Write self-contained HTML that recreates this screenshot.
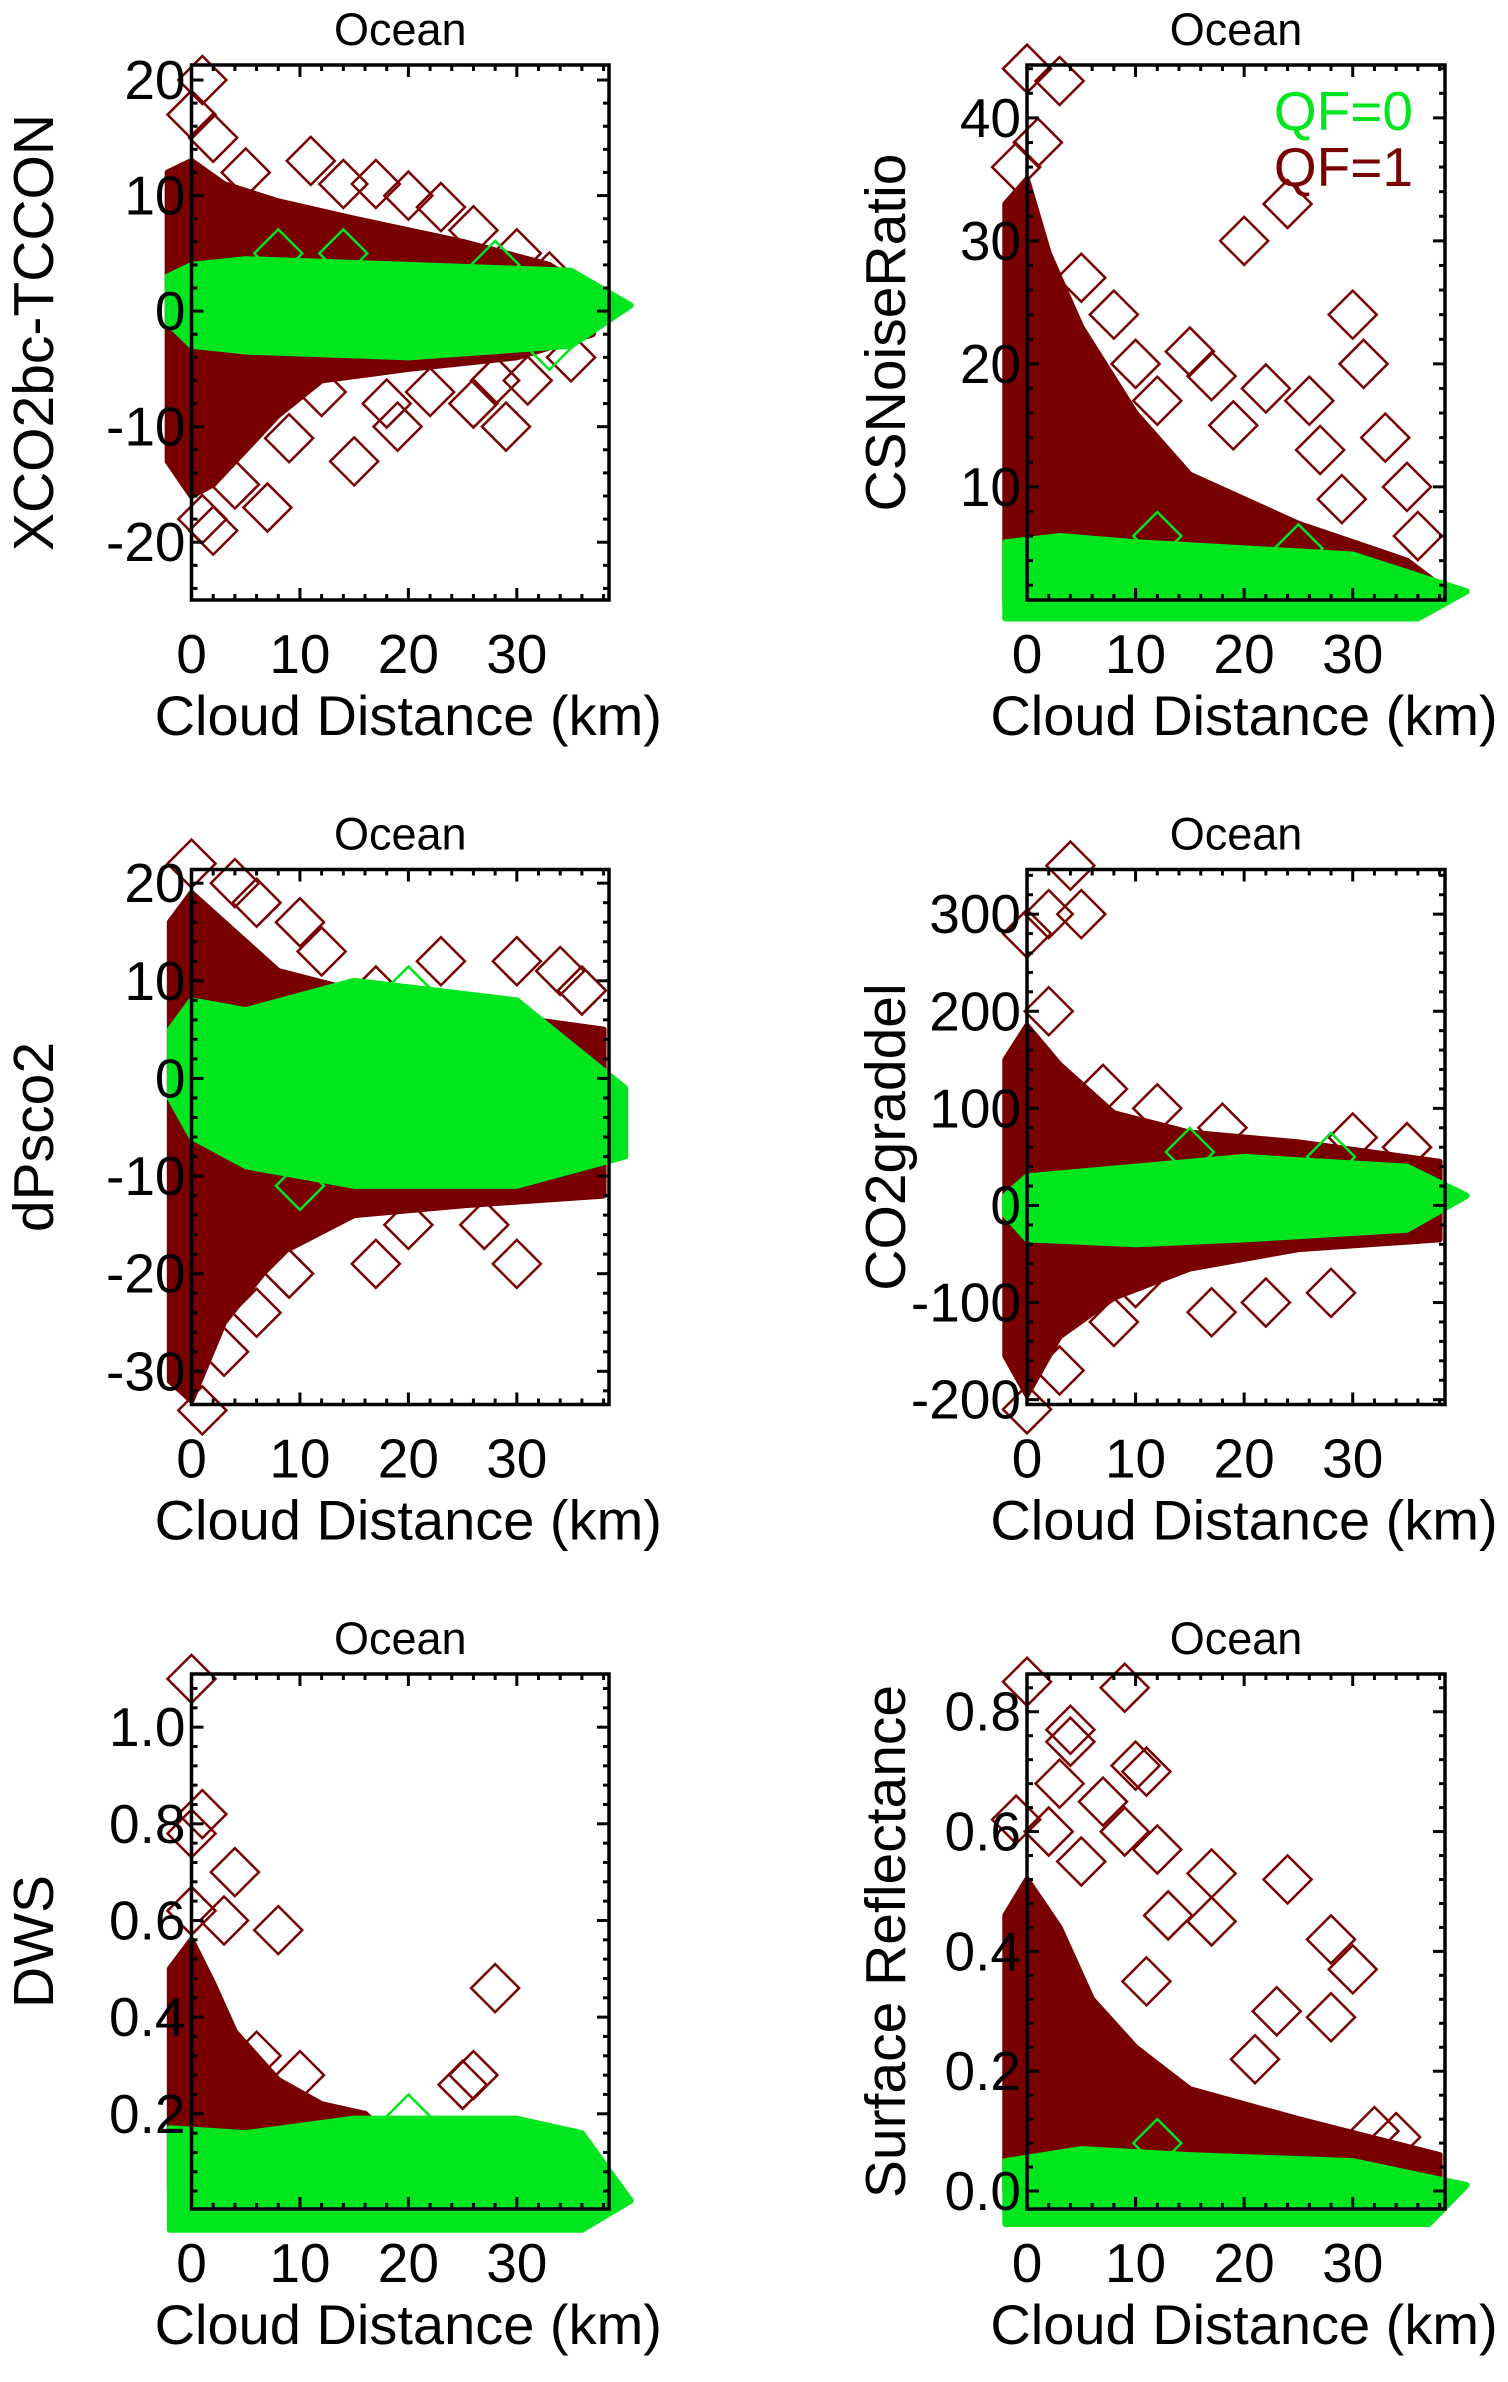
<!DOCTYPE html>
<html><head><meta charset="utf-8"><style>
html,body{margin:0;padding:0;background:#fff}
svg{display:block}
text{font-family:"Liberation Sans",sans-serif;fill:#000}
</style></head><body>
<svg id="fig" width="1508" height="2382" viewBox="0 0 1508 2382" xmlns="http://www.w3.org/2000/svg"></svg>
<script>
// ---- Data ----
const xTicks=[0,10,20,30];
const p1YTicks=[-20,-10,0,10,20];
const p2YTicks=[10,20,30,40];
const p3YTicks=[-30,-20,-10,0,10,20];
const p4YTicks=[-200,-100,0,100,200,300];
const p5YTicks=[0.2,0.4,0.6,0.8,1.0];
const p6YTicks=[0.0,0.2,0.4,0.6,0.8];
const p5YLabels=["0.2","0.4","0.6","0.8","1.0"];
const p6YLabels=["0.0","0.2","0.4","0.6","0.8"];

const p1RedEnv=[[-2.2,12],[0,13],[3,11],[8,9.5],[15,8],[25,6],[33,4],[38,1],[37,-2],[30,-4],[20,-5],[12,-6],[8,-9],[5,-12],[2,-15],[0,-16],[-2.2,-13]];
const p1RedPts=[[1,20],[0,17],[2,15],[5,12],[11,13],[14,11],[17,11],[20,10],[23,9],[26,7],[30,5],[33,3],[15,-13],[19,-10],[18,-8],[26,-8],[28,-6],[29,-10],[7,-17],[2,-19],[1,-18],[4,-15],[9,-11],[22,-7],[12,-7],[35,-4],[31,-6]];
const p1GreenEnv=[[-2.2,3],[0,4],[5,4.5],[20,4],[35,3.5],[40.5,0.5],[35,-3],[20,-4],[5,-3.5],[0,-3],[-2.2,-1]];
const p1GreenPts=[[8,5],[14,5],[28,4],[33,-3]];

const p2RedEnv=[[-2,0.5],[-2,33],[0,35],[2,29],[5,23],[10,16],[15,11],[25,7],[35,4],[38,2],[38,0.5]];
const p2RedPts=[[0,44],[3,43],[20,30],[24,33],[15,21],[17,19],[12,17],[22,18],[26,17],[30,24],[31,20],[33,14],[35,10],[27,13],[19,15],[8,24],[5,27],[10,20],[29,9],[36,6],[1,38],[-1,36]];
const p2GreenEnv=[[-2,-0.7],[-2,5.5],[3,6],[10,5.5],[30,4.5],[40.5,1.5],[36,-0.7]];
const p2GreenPts=[[12,6],[25,5]];

const p3RedEnv=[[-2,16],[0,19],[3,16],[8,11],[15,9],[25,7],[38,5],[38,-12],[25,-13],[15,-14],[8,-18],[3,-25],[0,-33],[-2,-31]];
const p3RedPts=[[0,22],[4,20],[10,16],[12,13],[17,9],[30,12],[34,11],[27,-15],[30,-19],[17,-19],[20,-15],[9,-20],[6,-24],[3,-28],[36,9],[23,12],[1,-34],[6,18]];
const p3GreenEnv=[[-2,5],[0,8],[5,7],[15,10],[30,8],[40,-1],[40,-8],[30,-11],[15,-11],[5,-9],[0,-6],[-2,-2]];
const p3GreenPts=[[20,9],[10,-11]];

const p4RedEnv=[[-2,150],[0,185],[3,145],[8,95],[15,75],[25,65],[38,45],[38,-35],[25,-45],[15,-65],[8,-95],[3,-135],[0,-195],[-2,-155]];
const p4RedPts=[[0,280],[2,300],[4,350],[5,300],[2,200],[12,100],[18,80],[30,70],[35,60],[8,-120],[17,-110],[22,-100],[28,-90],[0,-210],[3,-170],[10,-80],[7,120]];
const p4GreenEnv=[[-2,10],[0,30],[10,40],[20,50],[35,40],[40.5,10],[35,-25],[20,-35],[10,-40],[0,-35],[-2,-10]];
const p4GreenPts=[[15,55],[28,50]];

const p5RedEnv=[[-2,0.05],[-2,0.5],[0,0.56],[2,0.47],[4,0.37],[8,0.27],[12,0.22],[16,0.2],[20,0.12],[5,0.05]];
const p5RedPts=[[0,1.1],[1,0.82],[0,0.78],[4,0.7],[8,0.58],[3,0.6],[0,0.62],[28,0.46],[25,0.26],[10,0.28],[6,0.32],[26,0.28]];
const p5GreenEnv=[[-2,-0.04],[-2,0.17],[5,0.16],[15,0.19],[30,0.19],[36,0.16],[40.5,0.02],[36,-0.04]];
const p5GreenPts=[[20,0.19]];

const p6RedEnv=[[-2,0],[-2,0.46],[0,0.52],[3,0.44],[6,0.32],[10,0.24],[15,0.17],[25,0.12],[38,0.06],[38,0]];
const p6RedPts=[[0,0.85],[9,0.84],[4,0.77],[4,0.75],[10,0.71],[11,0.7],[7,0.65],[9,0.6],[12,0.57],[17,0.53],[24,0.52],[13,0.46],[17,0.45],[28,0.42],[30,0.37],[23,0.3],[28,0.29],[11,0.35],[21,0.22],[32,0.1],[34,0.09],[5,0.55],[2,0.6],[-1,0.62],[3,0.68]];
const p6GreenEnv=[[-2,-0.05],[-2,0.05],[5,0.07],[15,0.06],[30,0.05],[40.5,0.01],[37,-0.055],[-2,-0.055]];
const p6GreenPts=[[12,0.08]];

const panels=[
 {id:'xco2',ylab:'XCO2bc-TCCON',col:0,row:0,ymin:-25,ymax:21.3,ticks:p1YTicks,labels:null,re:p1RedEnv,rp:p1RedPts,ge:p1GreenEnv,gp:p1GreenPts},
 {id:'csnoise',ylab:'CSNoiseRatio',col:1,row:0,ymin:0.8,ymax:44.3,ticks:p2YTicks,labels:null,re:p2RedEnv,rp:p2RedPts,ge:p2GreenEnv,gp:p2GreenPts,legend:true},
 {id:'dpsco2',ylab:'dPsco2',col:0,row:1,ymin:-33.4,ymax:21.4,ticks:p3YTicks,labels:null,re:p3RedEnv,rp:p3RedPts,ge:p3GreenEnv,gp:p3GreenPts},
 {id:'co2graddel',ylab:'CO2graddel',col:1,row:1,ymin:-205,ymax:346,ticks:p4YTicks,labels:null,re:p4RedEnv,rp:p4RedPts,ge:p4GreenEnv,gp:p4GreenPts},
 {id:'dws',ylab:'DWS',col:0,row:2,ymin:0.003,ymax:1.11,ticks:p5YTicks,labels:p5YLabels,re:p5RedEnv,rp:p5RedPts,ge:p5GreenEnv,gp:p5GreenPts},
 {id:'surfrefl',ylab:'Surface Reflectance',col:1,row:2,ymin:-0.03,ymax:0.863,ticks:p6YTicks,labels:p6YLabels,re:p6RedEnv,rp:p6RedPts,ge:p6GreenEnv,gp:p6GreenPts}
];
const RED='#780000', GREEN='#00e61e', XMAX=38.5, R=24;
const svg=document.getElementById('fig');
const NS='http://www.w3.org/2000/svg';
function mk(tag,attrs,parent){const e=document.createElementNS(NS,tag);for(const k in attrs)e.setAttribute(k,attrs[k]);parent.appendChild(e);return e;}

panels.forEach(p=>{
  const L=p.col?1027:191.5, Rt=p.col?1445:609, T=65+p.row*804.5, B=600+p.row*804.5;
  const sx=v=>L+(v/XMAX)*(Rt-L);
  const sy=v=>B-(v-p.ymin)/(p.ymax-p.ymin)*(B-T);
  const g=mk('g',{},svg);
  
  
  const t=mk('text',{x:(L+Rt)/2,y:T-20,'text-anchor':'middle','font-size':45},g);t.textContent='Ocean';
  
  
  const dg=mk('g',{},g);
  
  
  const env=(pts,col,name)=>{const e=mk('polygon',{points:pts.map(q=>sx(q[0])+','+sy(q[1])).join(' '),fill:col,stroke:col,'stroke-width':6,'stroke-linejoin':'round'},dg);
    
    };
  const dia=(q,col,name)=>{const x=sx(q[0]),y=sy(q[1]);const e=mk('polygon',{points:`${x},${y-R} ${x+R},${y} ${x},${y+R} ${x-R},${y}`,fill:'none',stroke:col,'stroke-width':2.5},dg);
    
    };
  env(p.re,RED,'qf1-dense-region');
  p.rp.forEach(q=>dia(q,RED,'qf1-point'));
  env(p.ge,GREEN,'qf0-dense-region');
  p.gp.forEach(q=>dia(q,GREEN,'qf0-point'));
  const bx=mk('rect',{x:L,y:T,width:Rt-L,height:B-T,fill:'none',stroke:'#000','stroke-width':3.5},g);
  
  
  for(let v=0;v<=XMAX;v+=2){const x=sx(v),len=(v%10===0)?12:6;
    mk('line',{x1:x,y1:B,x2:x,y2:B-len,stroke:'#000','stroke-width':3},g);
    mk('line',{x1:x,y1:T,x2:x,y2:T+len,stroke:'#000','stroke-width':3},g);}
  xTicks.forEach(v=>{const e=mk('text',{x:sx(v),y:B+73,'text-anchor':'middle','font-size':55},g);e.textContent=v;
    
    });
  const xt=mk('text',{x:(L+Rt)/2+8,y:B+135,'text-anchor':'middle','font-size':56},g);xt.textContent='Cloud Distance (km)';
  
  
  const step=p.ticks[1]-p.ticks[0], minor=step/5;
  for(let v=Math.ceil(p.ymin/minor)*minor;v<=p.ymax;v+=minor){const y=sy(v);const isMaj=Math.abs(Math.round(v/step)*step-v)<minor/10;const len=isMaj?12:6;
    mk('line',{x1:L,y1:y,x2:L+len,y2:y,stroke:'#000','stroke-width':3},g);
    mk('line',{x1:Rt,y1:y,x2:Rt-len,y2:y,stroke:'#000','stroke-width':3},g);}
  p.ticks.forEach((v,i)=>{const e=mk('text',{x:L-6,y:sy(v)+19,'text-anchor':'end','font-size':55},g);e.textContent=p.labels?p.labels[i]:v;
    
    });
  const yx=p.col?885:33;
  const yt=mk('text',{x:yx,y:(T+B)/2,'text-anchor':'middle','font-size':57,transform:`rotate(-90 ${yx} ${(T+B)/2}) translate(0 20)`},g);yt.textContent=p.ylab;
  
  
  if(p.legend){
    const a=mk('text',{x:1413,y:130,'text-anchor':'end','font-size':55,style:'fill:'+GREEN},g);a.textContent='QF=0';
    
    
    const b=mk('text',{x:1413,y:186,'text-anchor':'end','font-size':55,style:'fill:'+RED},g);b.textContent='QF=1';
    
    
  }
});
</script>
</body></html>
